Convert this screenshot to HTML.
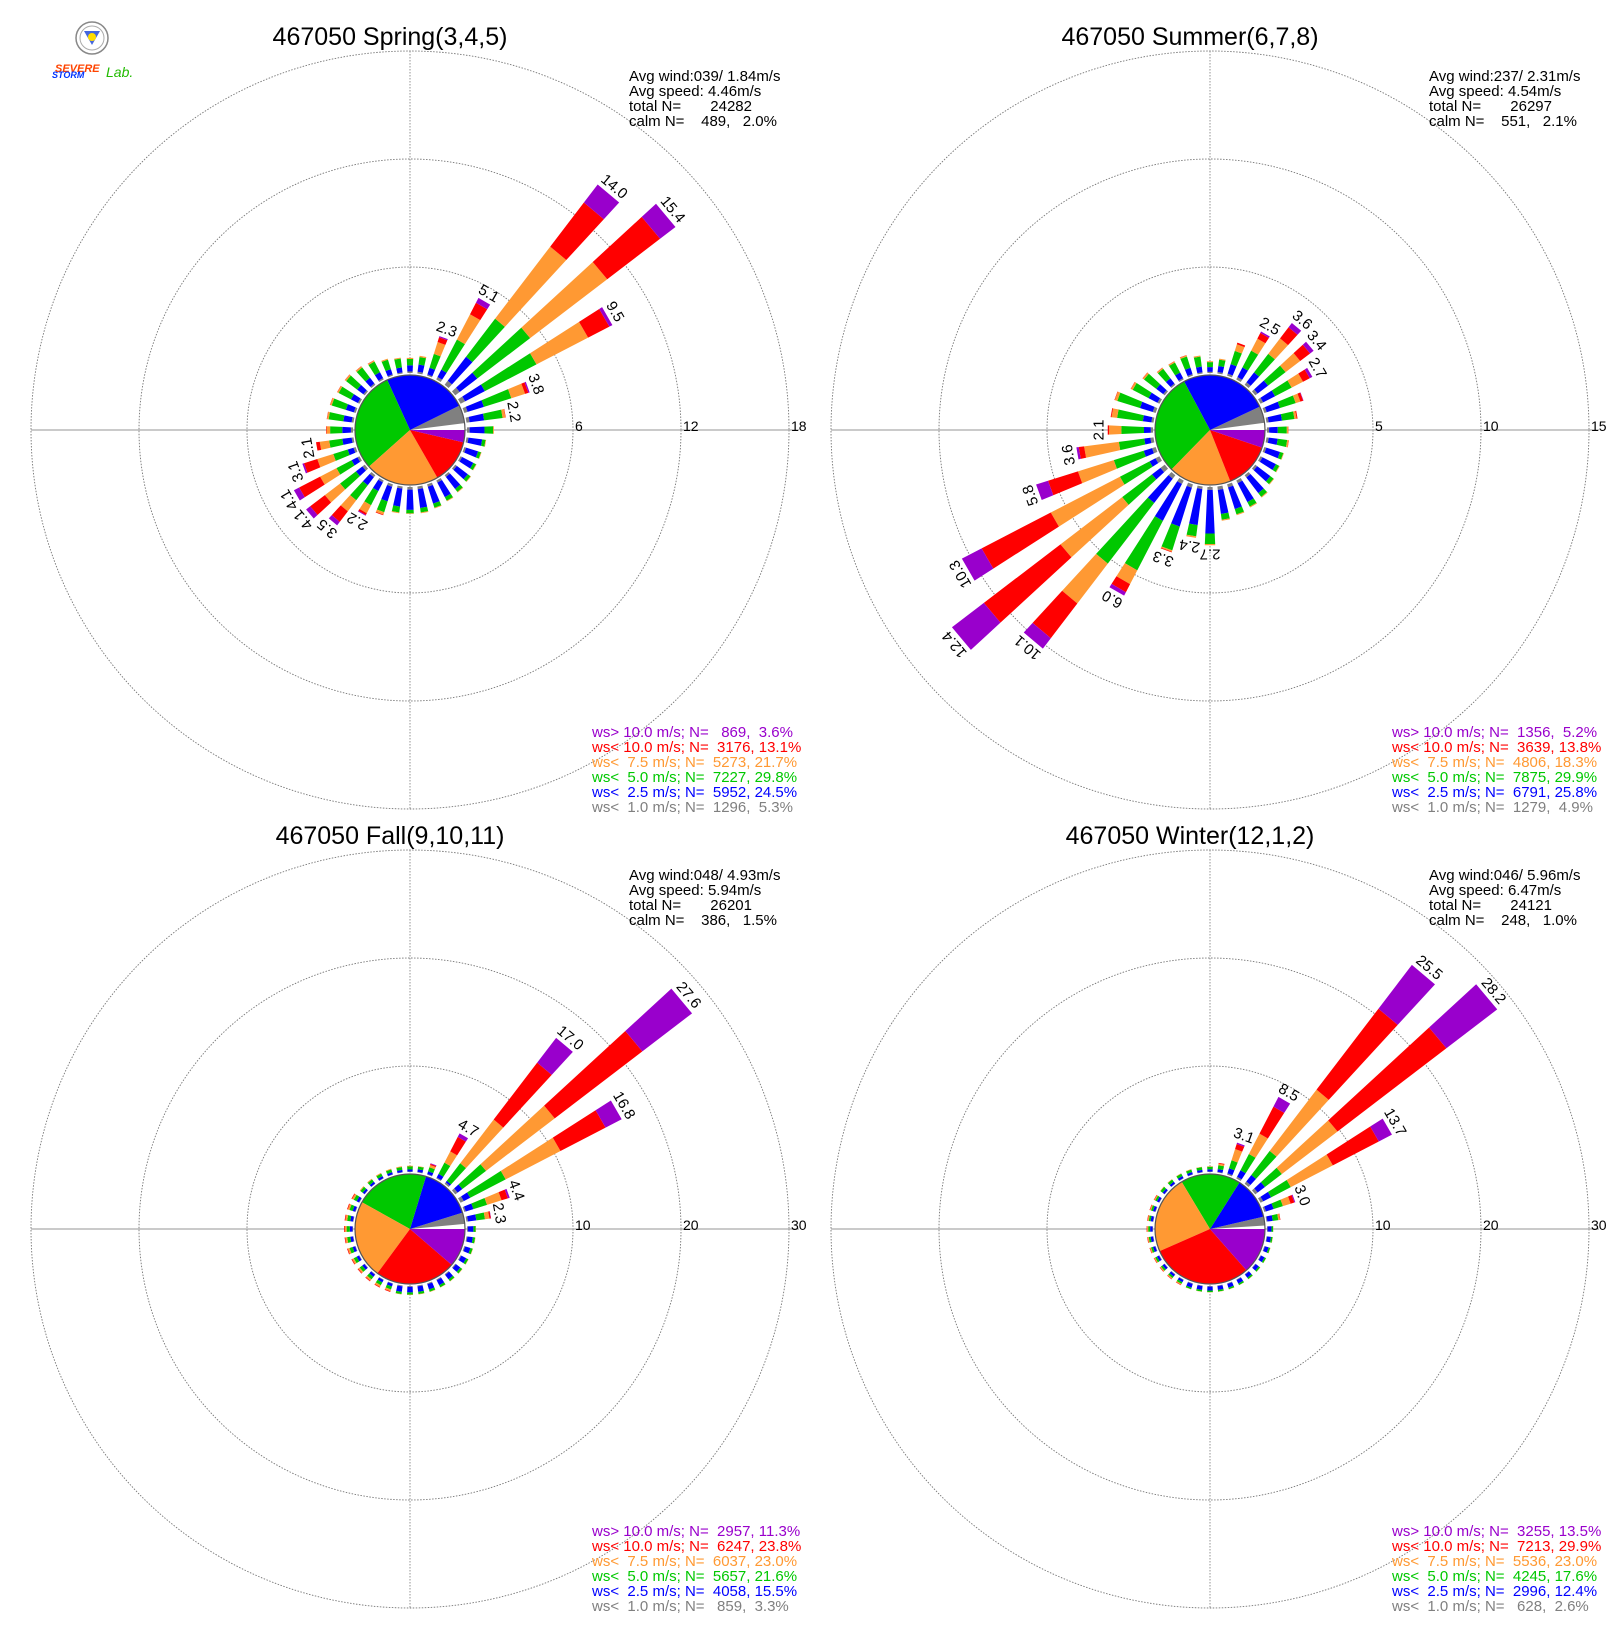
<!DOCTYPE html>
<html><head><meta charset="utf-8">
<style>
html,body{margin:0;padding:0;background:#fff;}
svg{display:block;}
text{font-family:"Liberation Sans",sans-serif;white-space:pre;}
</style></head>
<body>
<svg id="s" width="1620" height="1640" viewBox="0 0 1620 1640" xmlns="http://www.w3.org/2000/svg">
<rect width="1620" height="1640" fill="#fff"/>
<g id="g"></g>
<circle cx="92" cy="38" r="16" fill="#fff" stroke="#888" stroke-width="1.5"/>
<circle cx="92" cy="38" r="12" fill="none" stroke="#aaa" stroke-width="1"/>
<polygon points="84,31 100,31 92,45" fill="#4466dd"/>
<circle cx="92" cy="37" r="4" fill="#ffdd00"/>
<text x="55" y="72" font-size="11" font-style="italic" font-weight="bold" fill="#ff4400">SEVERE</text>
<text x="52" y="78" font-size="9" font-style="italic" font-weight="bold" fill="#0033ff">STORM</text>
<text x="106" y="77" font-size="14" font-style="italic" fill="#22bb00">Lab.</text>
</svg>
<script>
var NS="http://www.w3.org/2000/svg";
var G=document.getElementById("g");
function el(t,a,txt){var e=document.createElementNS(NS,t);for(var k in a)e.setAttribute(k,a[k]);if(txt!==undefined)e.textContent=txt;G.appendChild(e);return e;}
var COL=["#808080","#0000ff","#00c800","#ff9933","#ff0000","#9900cc"];
var R0=55,ROUT=379;
function pt(cx,cy,r,d){var a=d*Math.PI/180;return [cx+r*Math.sin(a),cy-r*Math.cos(a)];}
var Pblue=[.1,.8,.97,1,1,1],Pmix=[.1,.5,.92,.99,1,1],Pgreen=[.07,.38,.93,.99,1,1];
var panels=[
{cx:410,cy:430,max:18,ticks:[6,12,18],title:"467050 Spring(3,4,5)",
 stats:["Avg wind:039/ 1.84m/s","Avg speed: 4.46m/s","total N=       24282","calm N=    489,   2.0%"],
 leg:["ws> 10.0 m/s; N=   869,  3.6%","ws< 10.0 m/s; N=  3176, 13.1%","ws<  7.5 m/s; N=  5273, 21.7%","ws<  5.0 m/s; N=  7227, 29.8%","ws<  2.5 m/s; N=  5952, 24.5%","ws<  1.0 m/s; N=  1296,  5.3%"],
 pie:[2.0,5.3,24.5,29.8,21.7,13.1,3.6],
 bars:{10:[1.0,Pmix],20:[2.3,[.03,.2,.55,.85,.97,1],1],30:[5.1,[.03,.12,.49,.8,.94,1],1],40:[14.0,[.02,.14,.33,.69,.91,1],1],50:[15.4,[.02,.1,.34,.69,.93,1],1],60:[9.5,[.03,.16,.5,.84,.98,1],1],70:[3.8,[.05,.3,.72,.93,.98,1],1],80:[2.2,[.08,.45,.92,.99,1,1],1],90:[1.5,[.1,.65,.97,1,1,1]],100:[1.1,Pblue],110:[1.0,Pblue],120:[1.0,Pblue],130:[1.1,Pblue],140:[1.2,Pblue],150:[1.3,Pblue],160:[1.4,Pblue],170:[1.5,Pblue],180:[1.5,[.1,.85,.98,1,1,1]],190:[1.5,[.08,.75,.97,1,1,1]],200:[1.8,[.08,.55,.9,.98,1,1]],210:[2.2,[.05,.3,.7,.93,.98,1],1],220:[3.5,[.04,.2,.5,.72,.93,1],1],230:[4.1,[.04,.15,.42,.68,.93,1],1],240:[4.1,[.03,.12,.35,.6,.92,1],1],250:[3.1,[.04,.15,.42,.72,.97,1],1],260:[2.1,[.05,.3,.65,.9,1,1],1],270:[1.5,[.08,.4,.85,.98,1,1]],280:[1.5,Pgreen],290:[1.5,Pgreen],300:[1.4,Pgreen],310:[1.4,Pgreen],320:[1.3,Pgreen],330:[1.2,Pgreen],340:[1.0,Pgreen],350:[0.9,Pgreen],360:[0.85,Pmix]}},
{cx:1210,cy:430,max:15,ticks:[5,10,15],title:"467050 Summer(6,7,8)",
 stats:["Avg wind:237/ 2.31m/s","Avg speed: 4.54m/s","total N=       26297","calm N=    551,   2.1%"],
 leg:["ws> 10.0 m/s; N=  1356,  5.2%","ws< 10.0 m/s; N=  3639, 13.8%","ws<  7.5 m/s; N=  4806, 18.3%","ws<  5.0 m/s; N=  7875, 29.9%","ws<  2.5 m/s; N=  6791, 25.8%","ws<  1.0 m/s; N=  1279,  4.9%"],
 pie:[2.1,4.9,25.8,29.9,18.3,13.8,5.2],
 bars:{10:[0.7,Pmix],20:[1.6,[.06,.35,.75,.95,1,1]],30:[2.5,[.05,.25,.6,.85,.97,1],1],40:[3.6,[.04,.2,.5,.75,.93,1],1],50:[3.4,[.04,.22,.52,.77,.94,1],1],60:[2.7,[.05,.28,.6,.82,.95,1],1],70:[1.9,[.06,.4,.8,.92,.99,1]],80:[1.45,[.07,.5,.9,.97,1,1]],90:[1.0,Pmix],100:[1.05,Pmix],110:[0.95,Pblue],120:[1.0,Pblue],130:[1.1,Pblue],140:[1.3,Pblue],150:[1.4,Pblue],160:[1.5,Pblue],170:[1.6,Pblue],180:[2.7,[.05,.8,.98,1,1,1],1],190:[2.4,[.05,.75,.97,1,1,1],1],200:[3.3,[.05,.62,.97,.99,1,1],1],210:[6.0,[.03,.35,.78,.9,.97,1],1],220:[10.1,[.02,.16,.51,.74,.94,1],1],230:[12.4,[.02,.06,.2,.49,.85,1],1],240:[10.3,[.02,.05,.2,.55,.9,1],1],250:[5.8,[.03,.1,.35,.65,.9,1],1],260:[3.6,[.04,.12,.45,.9,.97,1],1],270:[2.1,[.05,.2,.7,.97,1,1],1],280:[2.0,[.05,.25,.85,.98,1,1]],290:[2.0,Pgreen],300:[1.5,Pgreen],310:[1.3,Pgreen],320:[1.0,Pgreen],330:[0.95,Pgreen],340:[1.0,Pgreen],350:[0.85,Pgreen],360:[0.55,Pmix]}},
{cx:410,cy:1229,max:30,ticks:[10,20,30],title:"467050 Fall(9,10,11)",
 stats:["Avg wind:048/ 4.93m/s","Avg speed: 5.94m/s","total N=       26201","calm N=    386,   1.5%"],
 leg:["ws> 10.0 m/s; N=  2957, 11.3%","ws< 10.0 m/s; N=  6247, 23.8%","ws<  7.5 m/s; N=  6037, 23.0%","ws<  5.0 m/s; N=  5657, 21.6%","ws<  2.5 m/s; N=  4058, 15.5%","ws<  1.0 m/s; N=   859,  3.3%"],
 pie:[1.5,3.3,15.5,21.6,23.0,23.8,11.3],
 bars:{10:[0.6,Pmix],20:[1.1,[.05,.3,.65,.85,.95,1]],30:[4.7,[.02,.1,.35,.6,.92,1],1],40:[17.0,[.01,.02,.14,.44,.83,1],1],50:[27.6,[.01,.03,.13,.42,.79,1],1],60:[16.8,[.02,.06,.28,.62,.9,1],1],70:[4.4,[.03,.2,.5,.82,.96,1],1],80:[2.3,[.06,.4,.75,.93,.99,1],1]},
 def:function(d){if(d>=90&&d<=190)return[0.85,[.1,.7,.95,.99,1,1]];if(d>190&&d<=300)return[0.85,[.06,.35,.7,.9,.98,1]];return[0.6,[.06,.4,.85,.97,1,1]];}},
{cx:1210,cy:1229,max:30,ticks:[10,20,30],title:"467050 Winter(12,1,2)",
 stats:["Avg wind:046/ 5.96m/s","Avg speed: 6.47m/s","total N=       24121","calm N=    248,   1.0%"],
 leg:["ws> 10.0 m/s; N=  3255, 13.5%","ws< 10.0 m/s; N=  7213, 29.9%","ws<  7.5 m/s; N=  5536, 23.0%","ws<  5.0 m/s; N=  4245, 17.6%","ws<  2.5 m/s; N=  2996, 12.4%","ws<  1.0 m/s; N=   628,  2.6%"],
 pie:[1.0,2.6,12.4,17.6,23.0,29.9,13.5],
 bars:{10:[0.9,[.06,.35,.75,.92,1,1]],20:[3.1,[.04,.2,.45,.8,.96,1],1],30:[8.5,[.02,.1,.3,.55,.88,1],1],40:[25.5,[.01,.04,.15,.43,.8,1],1],50:[28.2,[.01,.04,.11,.34,.79,1],1],60:[13.7,[.02,.08,.23,.55,.9,1],1],70:[3.0,[.05,.3,.6,.85,.97,1],1],80:[1.3,[.06,.45,.85,.97,1,1]]},
 def:function(d){if(d>=90&&d<=200)return[0.6,[.1,.7,.95,.99,1,1]];if(d>200&&d<=300)return[0.6,[.08,.45,.75,.92,.99,1]];return[0.55,[.08,.45,.9,.98,1,1]];}}
];
panels.forEach(function(p){
  var cx=p.cx,cy=p.cy,k=(ROUT-R0)/p.max;
  p.ticks.forEach(function(t){el("circle",{cx:cx,cy:cy,r:R0+t*k,fill:"none",stroke:"#777","stroke-width":0.9,"stroke-dasharray":"1.5,1.5"});});
  el("line",{x1:cx-ROUT,y1:cy,x2:cx+ROUT+10,y2:cy,stroke:"#aaa","stroke-width":1.2});
  el("line",{x1:cx,y1:cy-ROUT,x2:cx,y2:cy+ROUT,stroke:"#888","stroke-width":0.9,"stroke-dasharray":"1.5,1.5"});
  p.ticks.forEach(function(t){el("text",{x:cx+R0+t*k+2,y:cy+1,"font-size":14,fill:"#000"},String(t));});
  for(var d=10;d<=360;d+=10){
    var b=p.bars[d]||(p.def?p.def(d):[1,Pmix]);
    var T=b[0],f=b[1],hw=2.6;
    var prev=0;
    for(var i=0;i<6;i++){
      var r1=R0+2+prev*T*k,r2=R0+2+f[i]*T*k;
      if(r2-r1>0.2){
        var a=pt(cx,cy,r1,d-hw),bb=pt(cx,cy,r2,d-hw),c=pt(cx,cy,r2,d+hw),e=pt(cx,cy,r1,d+hw);
        el("polygon",{points:a.join(",")+" "+bb.join(",")+" "+c.join(",")+" "+e.join(","),fill:COL[i]});
      }
      prev=f[i];
    }
    if(b[2]){
      var tp=pt(cx,cy,R0+2+T*k+4,d);
      el("text",{x:tp[0],y:tp[1],"font-size":15,"text-anchor":"middle",transform:"rotate("+d+" "+tp[0]+" "+tp[1]+")",fill:"#000"},T.toFixed(1));
    }
  }
  var pc=["#ffffff"].concat(COL),ang=0;
  p.pie.forEach(function(v,i){
    var a2=ang+v*3.6,t1=ang*Math.PI/180,t2=a2*Math.PI/180;
    var x1=cx+R0*Math.cos(t1),y1=cy-R0*Math.sin(t1),x2=cx+R0*Math.cos(t2),y2=cy-R0*Math.sin(t2);
    el("path",{d:"M"+cx+","+cy+" L"+x1+","+y1+" A"+R0+","+R0+" 0 "+((a2-ang)>180?1:0)+" 0 "+x2+","+y2+" Z",fill:pc[i]});
    ang=a2;
  });
  el("circle",{cx:cx,cy:cy,r:R0,fill:"none",stroke:"#555","stroke-width":1.2});
  el("text",{x:cx-20,y:cy-385,"font-size":25,"text-anchor":"middle",fill:"#000"},p.title);
  p.stats.forEach(function(s,i){el("text",{x:cx+219,y:cy-349+i*15,"font-size":15,fill:"#000"},s);});
  var lc=["#9900cc","#ff0000","#ff9933","#00c800","#0000ff","#808080"];
  p.leg.forEach(function(s,i){el("text",{x:cx+182,y:cy+307+i*15,"font-size":15,fill:lc[i]},s);});
});
</script>
</body></html>
